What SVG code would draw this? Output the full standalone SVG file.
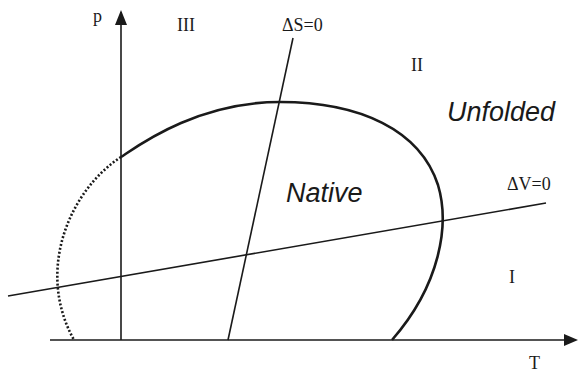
<svg xmlns="http://www.w3.org/2000/svg" width="579" height="372" viewBox="0 0 579 372">
<style>
.ax{stroke:#1a1a1a;stroke-width:1.6;fill:none}
.ln{stroke:#1a1a1a;stroke-width:1.6;fill:none}
.cv{stroke:#1a1a1a;stroke-width:2.6;fill:none}
.dt{stroke:#1a1a1a;stroke-width:2.6;fill:none;stroke-dasharray:2 2}
.s{font-family:"Liberation Serif",serif;font-size:18px;fill:#1a1a1a}
.i{font-family:"Liberation Sans",sans-serif;font-style:italic;font-size:27px;fill:#1a1a1a}
</style>
<g id="axes">
<line class="ax" x1="121" y1="340" x2="121" y2="12"/>
<path d="M121,10L115,25L127,25z" fill="#1a1a1a"/>
<line class="ax" x1="50" y1="340" x2="566" y2="340"/>
<path d="M578,340L564,334L564,346z" fill="#1a1a1a"/>
</g>
<g id="connectors">
<line class="ln" x1="228" y1="340" x2="293" y2="38"/>
<line class="ln" x1="8" y1="296" x2="546" y2="203"/>
<path class="cv" d="M121,157 C135,148 195,102 280,102 C360,102 420,130 438,185 C450,225 440,285 392,340"/>
<path class="dt" d="M121,157 C70,190 35,270 74,340"/>
</g>
<g id="labels">
<text class="s" x="93" y="22">p</text>
<text class="s" x="177" y="31">III</text>
<text class="s" x="282" y="31">ΔS=0</text>
<text class="s" x="411" y="71">II</text>
<text class="i" x="447" y="121">Unfolded</text>
<text class="i" x="286" y="202">Native</text>
<text class="s" x="507" y="190">ΔV=0</text>
<text class="s" x="509" y="283">I</text>
<text class="s" x="529" y="369">T</text>
</g>
</svg>
